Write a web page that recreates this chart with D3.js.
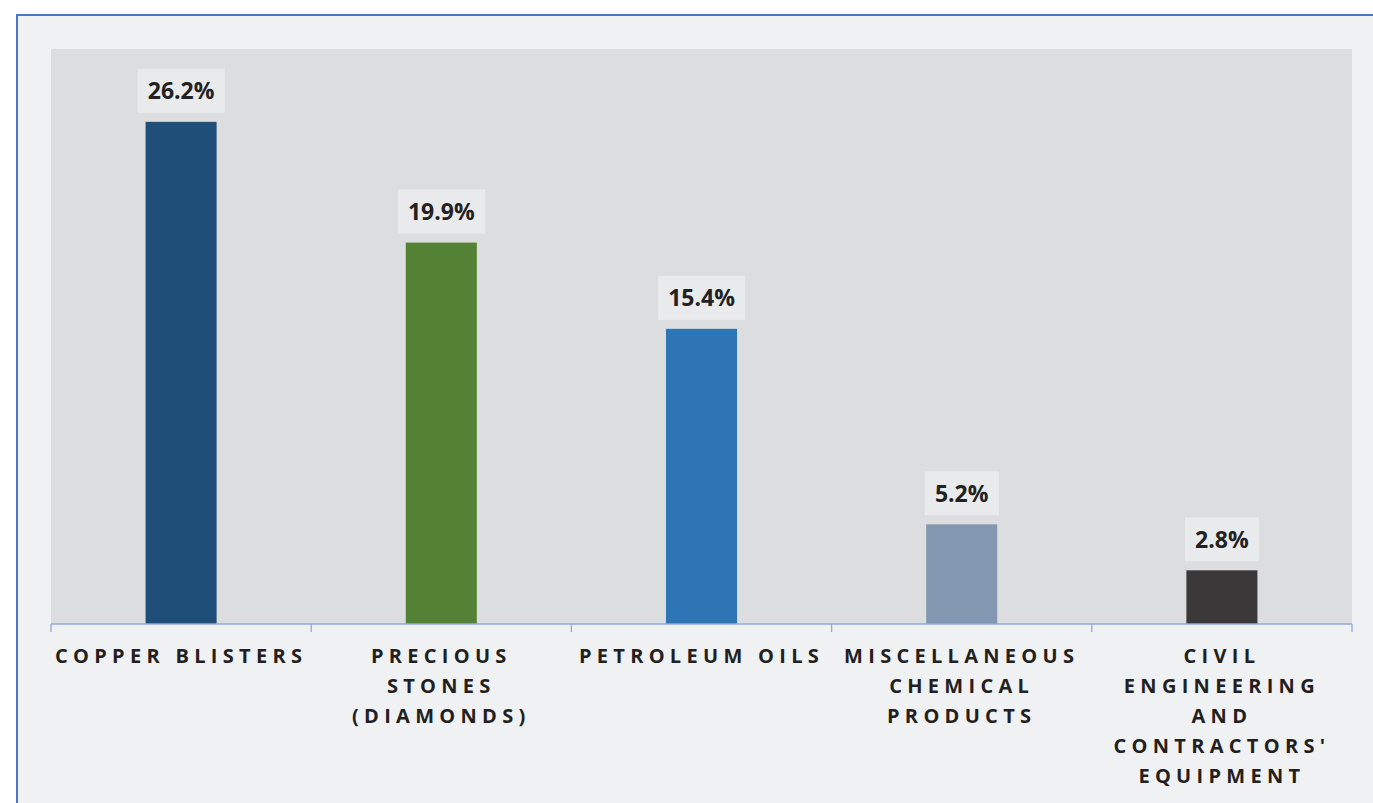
<!DOCTYPE html>
<html>
<head>
<meta charset="utf-8">
<script src="https://cdn.jsdelivr.net/npm/d3@7"></script>
<style>
  html, body { margin: 0; padding: 0; background: #ffffff; }
  svg { display: block; }
</style>
</head>
<body>
<svg id="chart" width="1373" height="803"></svg>
<script>
// Export share by product category (%)
const categories = [
  "Copper Blisters",
  "Precious Stones (Diamonds)",
  "Petroleum Oils",
  "Miscellaneous Chemical Products",
  "Civil Engineering and Contractors' Equipment"
];
const categoryLines = [
  ["COPPER BLISTERS"],
  ["PRECIOUS", "STONES", "(DIAMONDS)"],
  ["PETROLEUM OILS"],
  ["MISCELLANEOUS", "CHEMICAL", "PRODUCTS"],
  ["CIVIL", "ENGINEERING", "AND", "CONTRACTORS'", "EQUIPMENT"]
];
const shares = [26.2, 19.9, 15.4, 5.2, 2.8];
const barColors = ["#1f4e79", "#548235", "#2e75b6", "#8497b0", "#3a3838"];

const svg = d3.select("#chart");

// Outer panel with blue frame
svg.append("rect")
  .attr("x", 17).attr("y", 15)
  .attr("width", 1400).attr("height", 820)
  .attr("fill", "#f0f1f3")
  .attr("stroke", "#4a76c6").attr("stroke-width", 2);

const plot = { left: 51, right: 1352, top: 49, bottom: 624 };

// Plot background
svg.append("rect")
  .attr("x", plot.left).attr("y", plot.top)
  .attr("width", plot.right - plot.left).attr("height", plot.bottom - plot.top)
  .attr("fill", "#dcdddf");

const x = d3.scaleBand()
  .domain(categories)
  .range([plot.left, plot.right])
  .paddingInner(0.727).paddingOuter(0.3635);

const y = d3.scaleLinear().domain([0, 30]).range([plot.bottom, plot.top]);

const step = x.step();

// Bars
svg.append("g").selectAll("rect")
  .data(categories)
  .join("rect")
  .attr("x", d => x(d))
  .attr("width", x.bandwidth())
  .attr("y", (d, i) => y(shares[i]))
  .attr("height", (d, i) => y(0) - y(shares[i]))
  .attr("fill", (d, i) => barColors[i]);

// Value labels with boxes
const labels = svg.append("g").selectAll("g")
  .data(categories)
  .join("g")
  .attr("transform", (d, i) => `translate(${x(d) + x.bandwidth() / 2},${y(shares[i]) - 31})`);

labels.append("text")
  .attr("text-anchor", "middle")
  .attr("dy", "0.36em")
  .attr("font-family", "'Open Sans', sans-serif")
  .attr("font-weight", 700)
  .attr("font-size", 23)
  .attr("fill", "#222222")
  .text((d, i) => d3.format(".1f")(shares[i]) + "%");

labels.each(function() {
  const g = d3.select(this);
  const bb = g.select("text").node().getBBox();
  g.insert("rect", "text")
    .attr("x", bb.x - 10)
    .attr("y", -22)
    .attr("width", bb.width + 20)
    .attr("height", 44)
    .attr("fill", "#e9eaec");
});

// Category axis
const axis = d3.axisBottom(x).tickSize(0).tickFormat("");
const axisG = svg.append("g")
  .attr("transform", `translate(0,${plot.bottom})`)
  .call(axis);
axisG.select(".domain").attr("stroke", "#8eaadb").attr("stroke-width", 1.3)
  .attr("d", `M${plot.left},0H${plot.right}`);

// Category divider ticks
const boundaries = d3.range(categories.length + 1).map(i => plot.left + i * step);
svg.append("g").selectAll("line")
  .data(boundaries)
  .join("line")
  .attr("x1", d => d).attr("x2", d => d)
  .attr("y1", plot.bottom).attr("y2", plot.bottom + 8)
  .attr("stroke", "#8eaadb").attr("stroke-width", 1.3);

// Category labels
const spacing = 5.3;
const catText = svg.append("g").selectAll("text")
  .data(categories)
  .join("text")
  .attr("x", d => x(d) + x.bandwidth() / 2)
  .attr("y", 663)
  .attr("text-anchor", "middle")
  .attr("font-family", "'Open Sans', sans-serif")
  .attr("font-weight", 700)
  .attr("font-size", 20)
  .attr("letter-spacing", spacing)
  .attr("fill", "#231f20");

catText.each(function(d, i) {
  const t = d3.select(this);
  categoryLines[i].forEach((line, j) => {
    t.append("tspan")
      .attr("x", x(d) + x.bandwidth() / 2)
      .attr("y", 663 + j * 30)
      .text(line);
  });
});
</script>
</body>
</html>
